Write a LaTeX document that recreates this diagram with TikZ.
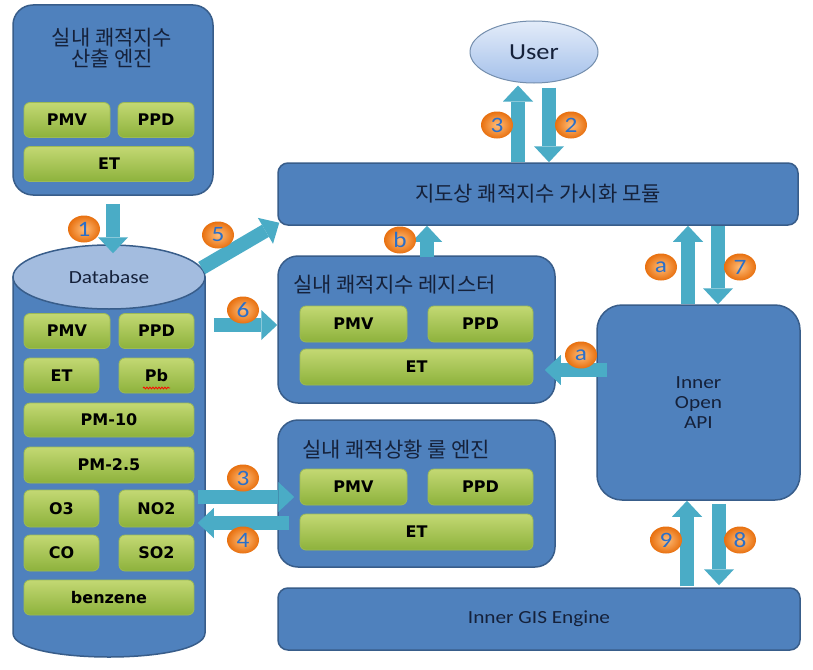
\documentclass[tikz,border=0pt]{standalone}
\usepackage{fontspec}
\setmainfont{Carlito}
\newfontfamily\kr{Noto Sans CJK KR}
\newfontfamily\lab{Carlito}[FakeStretch=1.15]
\newfontfamily\dv{DejaVu Sans}
\usetikzlibrary{shapes.geometric,arrows.meta,decorations.pathmorphing,calc}
\definecolor{boxblue}{HTML}{4F81BD}
\definecolor{boxedge}{HTML}{385D8A}
\definecolor{txtnavy}{HTML}{15213A}
\definecolor{gtop}{HTML}{C3D873}
\definecolor{gbot}{HTML}{8DB23C}
\definecolor{gedge}{HTML}{9DBA55}
\definecolor{flowc}{HTML}{4AACC6}
\definecolor{orin}{HTML}{FFBE7A}
\definecolor{orout}{HTML}{E8700F}
\definecolor{numblue}{HTML}{2A6FC9}
\definecolor{dbtop}{HTML}{A3BCDF}
\definecolor{utop}{HTML}{E3ECF9}
\definecolor{ubot}{HTML}{A4C0EA}
\tikzset{
  bbox/.style={draw=boxedge, line width=1.5pt, fill=boxblue, text=txtnavy, inner sep=0pt},
  gbox/.style={draw=gedge, line width=0.8pt, rounded corners=6pt, top color=gtop, bottom color=gbot,
    inner sep=0pt, font=\dv\bfseries\fontsize{16}{18}\selectfont, text=black},
  krt/.style={font=\kr\fontsize{21}{21}\selectfont, text=txtnavy, inner sep=0pt},
  latt/.style={font=\lab\fontsize{18.5}{20}\selectfont, text=txtnavy},
  flow/.style={draw=flowc, line width=14pt, -{Triangle[width=30pt,length=16pt,line width=0pt]}},
  badge/.style={ellipse, minimum width=32, minimum height=27, inner sep=0pt,
    inner color=orin, outer color=orout, text=numblue, font=\lab\fontsize{22}{22}\selectfont}
}
\begin{document}
\begin{tikzpicture}[x=1pt,y=-1pt]
\useasboundingbox (0,0) rectangle (813,669);
\fill[white] (0,0) rectangle (813,669);

% engine box
\node[bbox, rounded corners=20pt, minimum width=200, minimum height=190] (eng) at (113,100) {};
\node[krt, align=center] (engt) at (112,48) {실내 쾌적지수\\산출 엔진};
\node[gbox, minimum width=86, minimum height=35] (e1) at (67,120) {PMV};
\node[gbox, minimum width=76, minimum height=35] (e2) at (156,120) {PPD};
\node[gbox, minimum width=170, minimum height=35] (e3) at (109,164) {ET};

% database
\filldraw[draw=boxedge, line width=1.5pt, fill=boxblue] (13,277) -- (13,633)
  .. controls (13,665) and (205,665) .. (205,633) -- (205,277) -- cycle;
\node[ellipse, draw=boxedge, line width=1.5pt, fill=dbtop, minimum width=192, minimum height=64,
  inner sep=0pt, latt] (db) at (109,277) {Database};
\node[gbox, minimum width=86, minimum height=35] (d1) at (67,331) {PMV};
\node[gbox, minimum width=75, minimum height=35] (d2) at (156.5,331) {PPD};
\node[gbox, minimum width=75, minimum height=35] (d3) at (61.5,375.5) {ET};
\node[gbox, minimum width=75, minimum height=35] (d4) at (156.5,375.5) {Pb};
\draw[red, line width=0.8pt, decorate, decoration={snake, amplitude=0.9pt, segment length=3pt}] (143,388) -- (170,388);
\node[gbox, minimum width=170, minimum height=34] (d5) at (109,420) {PM-10};
\node[gbox, minimum width=170, minimum height=36] (d6) at (109,465) {PM-2.5};
\node[gbox, minimum width=75, minimum height=37] (d7) at (61.5,508.5) {O3};
\node[gbox, minimum width=75, minimum height=37] (d8) at (156.5,508.5) {NO2};
\node[gbox, minimum width=75, minimum height=36] (d9) at (61.5,553) {CO};
\node[gbox, minimum width=75, minimum height=36] (d10) at (156.5,553) {SO2};
\node[gbox, minimum width=170, minimum height=35] (d11) at (109,597.5) {benzene};

% user
\node[ellipse, draw=boxedge!70, line width=1pt, top color=utop, bottom color=ubot,
  minimum width=128, minimum height=62, inner sep=0pt,
  font=\lab\fontsize{23}{24}\selectfont, text=txtnavy] (user) at (534,52) {User};

% visualisation module
\node[bbox, rounded corners=10pt, minimum width=520, minimum height=62, krt] (mod) at (538,194) {지도상 쾌적지수 가시화 모듈};

% register
\node[bbox, rounded corners=20pt, minimum width=277, minimum height=147] (reg) at (416.5,329.5) {};
\node[krt, anchor=west] (regt) at (293,285) {실내 쾌적지수 레지스터};
\node[gbox, minimum width=107, minimum height=36] (r1) at (353.5,324) {PMV};
\node[gbox, minimum width=105, minimum height=36] (r2) at (480.5,324) {PPD};
\node[gbox, minimum width=233, minimum height=36] (r3) at (416.5,367) {ET};

% rule engine
\node[bbox, rounded corners=20pt, minimum width=277, minimum height=147] (rule) at (416.5,493.5) {};
\node[krt, anchor=west] (rulet) at (302,450) {실내 쾌적상황 룰 엔진};
\node[gbox, minimum width=107, minimum height=36] (u1) at (353.5,487) {PMV};
\node[gbox, minimum width=105, minimum height=36] (u2) at (480.5,487) {PPD};
\node[gbox, minimum width=233, minimum height=36] (u3) at (416.5,532) {ET};

% API
\node[bbox, rounded corners=25pt, minimum width=203, minimum height=195, align=center,
  font=\lab\fontsize{18.5}{20}\selectfont] (api) at (698.5,402.5) {Inner\\Open\\API};

% GIS
\node[bbox, rounded corners=10pt, minimum width=522, minimum height=62, latt] (gis) at (539,619) {Inner GIS Engine};

% arrows
\draw[flow] ($(eng.south)+(0,8)$) -- ($(db.north)+(4,9)$);
\draw[flow] ($(db.east)+(-4,-9)$) -- ($(mod.south west)+(2,-3)$);
\draw[flow] ($(db.east)+(8,48)$) -- ($(reg.west)+(0,-4.5)$);
\draw[flow] ($(mod.north)+(-20,0)$) -- ($(user.south)+(-16,2)$);
\draw[flow] ($(user.south)+(15,4)$) -- ($(mod.north)+(11,0)$);
\draw[flow] ($(reg.north)+(10.5,2)$) -- ($(mod.south)+(-111,0)$);
\draw[flow] ($(api.north)+(-10.5,0)$) -- ($(mod.south)+(150,0)$);
\draw[flow] ($(mod.south)+(180,0)$) -- ($(api.north)+(19.5,0)$);
\draw[flow] ($(api.west)+(11,-32.5)$) -- ($(reg.east)+(-11,40.5)$);
\draw[flow] ($(gis.north)+(148,-1)$) -- ($(api.south)+(-11.5,0)$);
\draw[flow] ($(api.south)+(20.5,3)$) -- ($(gis.north)+(180,-2)$);
\draw[flow] ($(db.east)+(-8,220)$) -- ($(rule.west)+(17,3.5)$);
\draw[flow] ($(rule.west)+(12,29.5)$) -- ($(db.east)+(-8,246)$);

% badges
\node[badge] (n1) at (84,229) {1};
\node[badge] (n5) at (218,235) {5};
\node[badge] (n6) at (243,310) {6};
\node[badge] (n3a) at (497,125) {3};
\node[badge] (n2) at (571,125) {2};
\node[badge] (nb) at (400,240) {b};
\node[badge] (na1) at (661,267) {a};
\node[badge] (n7) at (740,267) {7};
\node[badge] (na2) at (581,355) {a};
\node[badge] (n9) at (666,540) {9};
\node[badge] (n8) at (740,540) {8};
\node[badge] (n3b) at (243,478) {3};
\node[badge] (n4) at (243,540) {4};
\end{tikzpicture}
\end{document}
